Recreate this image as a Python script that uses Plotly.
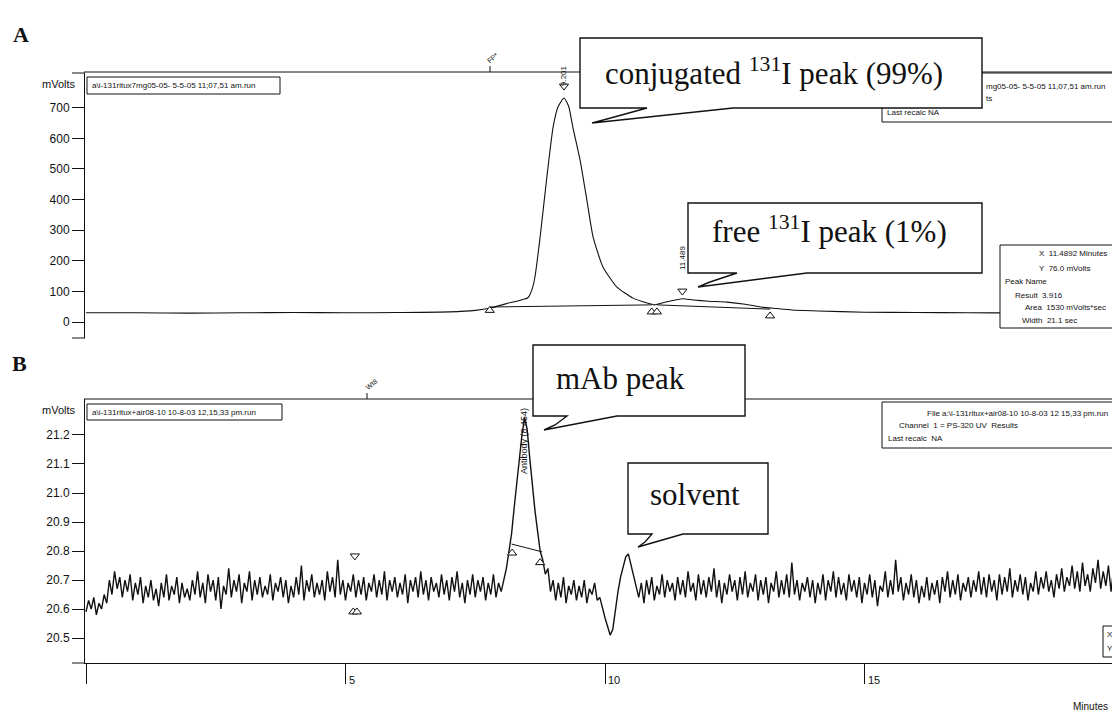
import plotly.graph_objects as go

W, H = 1120, 714
OFF = 8  # page body margin of the html page

# ---------------- data ----------------
# Panel A: radio-HPLC trace (mVolts vs minutes)
a_time = [0, 1, 2, 3, 4, 5, 6, 7, 7.5, 7.8, 8.1, 8.3, 8.45, 8.52, 8.6, 8.65, 8.75, 8.88,
          9.0, 9.1, 9.21, 9.3, 9.38, 9.52, 9.65, 9.77, 9.96, 10.23, 10.54, 10.81, 10.95,
          11.1, 11.3, 11.49, 11.7, 12.0, 12.35, 12.7, 13.0, 13.3, 13.6, 14.1, 15, 16, 17,
          18, 19, 19.92]
a_mv = [30, 30, 29, 30, 31, 30, 31, 33, 38, 46, 60, 68, 75, 80, 110, 147, 278, 474,
        637, 705, 732, 705, 637, 529, 399, 278, 180, 114, 78, 62, 56,
        62, 70, 76, 72, 68, 65, 58, 49, 44, 39, 36, 32, 31, 30,
        30, 30, 30]
a_base1_t = [7.78, 10.9]
a_base1_v = [49, 56]
a_base2_t = [11.0, 13.18]
a_base2_v = [56, 42]
a_up_t = [7.78, 10.9, 11.0, 13.18]
a_up_v = [38, 33, 33, 20]
a_dn_t = [9.21, 11.49]
a_dn_v = [771, 101]
a_ticks = [0, 100, 200, 300, 400, 500, 600, 700]

# Panel B: UV trace (mVolts), sampled every 0.05 min from 0
b_t0 = 0.0
b_step = 0.05
b_mv = [
    20.59, 20.63, 20.60, 20.64, 20.58, 20.62, 20.60, 20.65, 20.62, 20.70,
    20.65, 20.73, 20.67, 20.71, 20.64, 20.70, 20.66, 20.72, 20.63, 20.69,
    20.65, 20.71, 20.62, 20.68, 20.64, 20.70, 20.63, 20.67, 20.61, 20.69,
    20.64, 20.72, 20.63, 20.68, 20.65, 20.71, 20.62, 20.69, 20.64, 20.67,
    20.63, 20.70, 20.65, 20.73, 20.64, 20.69, 20.62, 20.72, 20.66, 20.70,
    20.63, 20.71, 20.60, 20.68, 20.65, 20.74, 20.64, 20.70, 20.66, 20.72,
    20.62, 20.69, 20.66, 20.73, 20.63, 20.70, 20.65, 20.71, 20.64, 20.68,
    20.65, 20.72, 20.63, 20.69, 20.66, 20.71, 20.64, 20.70, 20.62, 20.68,
    20.64, 20.71, 20.65, 20.75, 20.63, 20.70, 20.66, 20.72, 20.64, 20.69,
    20.65, 20.70, 20.63, 20.73, 20.66, 20.71, 20.64, 20.77, 20.65, 20.70,
    20.63, 20.69, 20.66, 20.72, 20.64, 20.70, 20.65, 20.71, 20.63, 20.69,
    20.66, 20.72, 20.64, 20.70, 20.65, 20.73, 20.63, 20.70, 20.66, 20.71,
    20.64, 20.69, 20.65, 20.72, 20.62, 20.70, 20.66, 20.71, 20.64, 20.73,
    20.65, 20.70, 20.63, 20.71, 20.66, 20.69, 20.64, 20.72, 20.65, 20.70,
    20.63, 20.71, 20.66, 20.73, 20.64, 20.69, 20.62, 20.70, 20.65, 20.72,
    20.64, 20.70, 20.66, 20.71, 20.63, 20.69, 20.65, 20.72, 20.64, 20.69,
    20.66, 20.70, 20.74, 20.80, 20.86, 20.95, 21.04, 21.12, 21.20, 21.26,
    21.22, 21.12, 21.02, 20.94, 20.87, 20.80, 20.77, 20.72, 20.74, 20.66,
    20.70, 20.63, 20.69, 20.64, 20.71, 20.62, 20.68, 20.65, 20.70, 20.63,
    20.68, 20.64, 20.70, 20.62, 20.67, 20.65, 20.69, 20.63, 20.64, 20.60,
    20.57, 20.54, 20.51, 20.53, 20.60, 20.66, 20.71, 20.75, 20.78, 20.79,
    20.75, 20.72, 20.67, 20.64, 20.69, 20.62, 20.70, 20.65, 20.71, 20.63,
    20.68, 20.65, 20.72, 20.64, 20.70, 20.66, 20.69, 20.63, 20.71, 20.65,
    20.70, 20.64, 20.73, 20.66, 20.69, 20.63, 20.72, 20.65, 20.70, 20.64,
    20.71, 20.66, 20.74, 20.64, 20.70, 20.62, 20.69, 20.65, 20.72, 20.66,
    20.70, 20.63, 20.71, 20.65, 20.73, 20.64, 20.69, 20.66, 20.72, 20.63,
    20.70, 20.65, 20.71, 20.62, 20.69, 20.66, 20.73, 20.64, 20.70, 20.65,
    20.72, 20.64, 20.76, 20.65, 20.70, 20.63, 20.69, 20.66, 20.71, 20.64,
    20.70, 20.62, 20.69, 20.65, 20.72, 20.63, 20.70, 20.66, 20.73, 20.64,
    20.71, 20.65, 20.69, 20.63, 20.72, 20.66, 20.70, 20.64, 20.71, 20.62,
    20.69, 20.65, 20.72, 20.64, 20.70, 20.61, 20.68, 20.66, 20.73, 20.64,
    20.70, 20.65, 20.77, 20.66, 20.71, 20.63, 20.69, 20.65, 20.72, 20.64,
    20.70, 20.62, 20.68, 20.64, 20.71, 20.63, 20.69, 20.65, 20.70, 20.62,
    20.71, 20.66, 20.73, 20.64, 20.70, 20.65, 20.72, 20.63, 20.69, 20.66,
    20.71, 20.64, 20.70, 20.66, 20.73, 20.65, 20.71, 20.64, 20.72, 20.66,
    20.70, 20.63, 20.72, 20.65, 20.71, 20.66, 20.74, 20.64, 20.70, 20.66,
    20.72, 20.65, 20.71, 20.63, 20.69, 20.66, 20.73, 20.65, 20.71, 20.67,
    20.73, 20.66, 20.70, 20.64, 20.72, 20.67, 20.74, 20.66, 20.71, 20.68,
    20.75, 20.67, 20.73, 20.66, 20.76, 20.68, 20.72, 20.66, 20.74, 20.69,
    20.77, 20.67, 20.73, 20.68, 20.75, 20.66, 20.74, 20.69, 20.72,
]
b_time = [b_t0 + b_step * i for i in range(len(b_mv))]
b_base_t = [8.2, 8.79]
b_base_v = [20.824, 20.797]
b_up_t = [5.15, 5.22, 8.21, 8.75]
b_up_v = [20.59, 20.59, 20.793, 20.76]
b_dn_t = [5.18]
b_dn_v = [20.783]
b_ticks = [20.5, 20.6, 20.7, 20.8, 20.9, 21.0, 21.1, 21.2]
x_ticks = [0, 5, 10, 15]
x_tick_labels = ["", "5", "10", "15"]

# ---------------- helpers (page pixels -> paper) ----------------
def X(p):
    return (p - OFF) / W

def Y(p):
    return 1 - (p - OFF) / H

SANS = "Liberation Sans, Arial, sans-serif"
SERIF = "Liberation Serif, Times New Roman, serif"

fig = go.Figure()

line_style = dict(color="#111111", width=1)
fig.add_trace(go.Scatter(x=a_time, y=a_mv, mode="lines",
                         line=dict(color="#111111", width=1.1, shape="spline", smoothing=0.5),
                         xaxis="x", yaxis="y", hoverinfo="skip"))
fig.add_trace(go.Scatter(x=a_base1_t, y=a_base1_v, mode="lines", line=line_style, xaxis="x", yaxis="y"))
fig.add_trace(go.Scatter(x=a_base2_t, y=a_base2_v, mode="lines", line=line_style, xaxis="x", yaxis="y"))
tri = dict(size=8, color="white", line=dict(color="#111111", width=1))
fig.add_trace(go.Scatter(x=a_up_t, y=a_up_v, mode="markers", marker=dict(symbol="triangle-up", **tri), xaxis="x", yaxis="y"))
fig.add_trace(go.Scatter(x=a_dn_t, y=a_dn_v, mode="markers", marker=dict(symbol="triangle-down", **tri), xaxis="x", yaxis="y"))

fig.add_trace(go.Scatter(x=b_time, y=b_mv, mode="lines", line=dict(color="#111111", width=1.4), xaxis="x2", yaxis="y2"))
fig.add_trace(go.Scatter(x=b_base_t, y=b_base_v, mode="lines", line=line_style, xaxis="x2", yaxis="y2"))
fig.add_trace(go.Scatter(x=b_up_t, y=b_up_v, mode="markers", marker=dict(symbol="triangle-up", **tri), xaxis="x2", yaxis="y2"))
fig.add_trace(go.Scatter(x=b_dn_t, y=b_dn_v, mode="markers", marker=dict(symbol="triangle-down", **tri), xaxis="x2", yaxis="y2"))

x0 = 86
ppm = 51.9  # pixels per minute
xrange = [(85 - x0) / ppm, (W + OFF - x0) / ppm]

tickfont = dict(family=SANS, size=12, color="#111111")
fig.update_layout(
    width=W, height=H, margin=dict(l=0, r=0, t=0, b=0),
    paper_bgcolor="white", plot_bgcolor="white", showlegend=False,
    xaxis=dict(domain=[X(85), 1], range=xrange, anchor="y", showgrid=False, zeroline=False,
               showticklabels=False, showline=False, ticks=""),
    yaxis=dict(domain=[Y(338), Y(73)], range=[-52.3, 813.7], anchor="x", showgrid=False, zeroline=False,
               tickvals=a_ticks, ticks="outside", ticklen=12, tickcolor="#111111",
               showline=True, linecolor="#111111", linewidth=1, tickfont=tickfont),
    xaxis2=dict(domain=[X(85), 1], range=xrange, anchor="y2", showgrid=False, zeroline=False,
                tickvals=x_ticks, ticks="outside", ticklen=20, tickcolor="#111111",
                showticklabels=False, showline=True, linecolor="#111111", linewidth=1),
    yaxis2=dict(domain=[Y(663), Y(399)], range=[20.414, 21.324], anchor="x2", showgrid=False, zeroline=False,
                tickvals=b_ticks, tickformat=".1f", ticks="outside", ticklen=12, tickcolor="#111111",
                showline=True, linecolor="#111111", linewidth=1, tickfont=tickfont),
)

shapes = []
def hline(x1, x2, y, color="#111111", w=1):
    shapes.append(dict(type="line", xref="paper", yref="paper", x0=X(x1), x1=X(x2), y0=Y(y), y1=Y(y),
                       line=dict(color=color, width=w), layer="above"))
def vline(x, y1, y2, color="#111111", w=1):
    shapes.append(dict(type="line", xref="paper", yref="paper", x0=X(x), x1=X(x), y0=Y(y1), y1=Y(y2),
                       line=dict(color=color, width=w), layer="above"))
def rect(x1, y1, x2, y2, w=1):
    shapes.append(dict(type="rect", xref="paper", yref="paper", x0=X(x1), x1=X(x2), y0=Y(y2), y1=Y(y1),
                       line=dict(color="#111111", width=w), fillcolor="white", layer="above"))
def callout(pts, w=1.4):
    path = "M " + " L ".join(f"{X(a):.5f},{Y(b):.5f}" for a, b in pts) + " Z"
    shapes.append(dict(type="path", xref="paper", yref="paper", path=path,
                       line=dict(color="#111111", width=w), fillcolor="white", layer="above"))

# frame lines
hline(84, 1128, 72)
hline(72, 85, 73)
hline(72, 85, 338)
hline(84, 1128, 399)
hline(72, 85, 663)
# small event marks
vline(490, 66, 72)
vline(367, 393, 399)

# info boxes
rect(882, 73, 1140, 122)
rect(87, 77, 280, 94)
rect(1000, 245, 1140, 328)
rect(882, 402, 1140, 448)
rect(87, 404, 282, 420)
rect(1103, 626, 1140, 657)

# speech-bubble callouts
callout([(580, 38), (982, 38), (982, 108), (733, 108), (592, 123), (607, 119), (647, 108), (580, 108)])
callout([(688, 203), (982, 203), (982, 273), (807, 273), (698, 287), (710, 282), (737, 273), (688, 273)])
callout([(533, 345), (745, 345), (745, 416), (617, 416), (544, 430), (555, 425), (567, 416), (533, 416)])
callout([(628, 463), (768, 463), (768, 534), (683, 534), (638, 547), (645, 542), (652, 534), (628, 534)])

fig.update_layout(shapes=shapes)

ann = []
def txt(x, y, s, size=8, anchor="left", family=SANS, angle=0, bold=False, yanchor="middle"):
    if bold:
        s = f"<b>{s}</b>"
    ann.append(dict(x=X(x), y=Y(y), xref="paper", yref="paper", text=s, showarrow=False,
                    xanchor=anchor, yanchor=yanchor, textangle=angle,
                    font=dict(family=family, size=size, color="#111111")))

txt(11, 35, "A", size=22, family=SERIF, bold=True)
txt(10, 363, "B", size=22, family=SERIF, bold=True)
txt(78, 84, "mVolts", size=11, anchor="right")
txt(78, 410, "mVolts", size=11, anchor="right")

txt(90, 85.5, "a\\i-131ritux7mg05-05- 5-5-05 11;07,51 am.run", size=8)
txt(90, 412, "a\\i-131ritux+air08-10 10-8-03 12,15,33 pm.run", size=8)

txt(984, 86, "mg05-05- 5-5-05 11,07,51 am.run", size=8)
txt(984, 98, "ts", size=8)
txt(885, 112, "Last recalc NA", size=8)

txt(1110, 413, "File a:\\i-131ritux+air08-10 10-8-03 12 15,33 pm.run", size=8, anchor="right")
txt(897, 425, "Channel  1 = PS-320 UV  Results", size=8)
txt(886, 438, "Last recalc  NA", size=8)

txt(1037, 253, "X  11.4892 Minutes", size=8)
txt(1037, 268, "Y  76.0 mVolts", size=8)
txt(1003, 281, "Peak Name", size=8)
txt(1013, 295, "Result  3.916", size=8)
txt(1023, 307, "Area  1530 mVolts*sec", size=8)
txt(1020, 320, "Width  21.1 sec", size=8)

txt(1105, 634, "X", size=8)
txt(1105, 648, "Y", size=8)

txt(1110, 706, "Minutes", size=10, anchor="right")
for tv, tl in zip(x_ticks, x_tick_labels):
    if tl:
        ann.append(dict(x=tv, y=Y(680), xref="x2", yref="paper", text=tl, showarrow=False,
                        xanchor="left", yanchor="middle", xshift=1,
                        font=dict(family=SANS, size=11, color="#111111")))

txt(563, 76, "9.201", size=8, anchor="center", angle=-90)
txt(683, 258, "11.489", size=8, anchor="center", angle=-90)
txt(524, 441, "Antibody (8.454)", size=9, anchor="center", angle=-90)
txt(493, 58, "FP*", size=7, anchor="center", angle=-40)
txt(371, 384, "Wt8", size=7, anchor="center", angle=-40)

txt(603, 71, "conjugated <sup>131</sup>I peak (99%)", size=31, family=SERIF)
txt(710, 229, "free <sup>131</sup>I peak (1%)", size=31, family=SERIF)
txt(554, 378, "mAb peak", size=31, family=SERIF)
txt(648, 494, "solvent", size=31, family=SERIF)

fig.update_layout(annotations=ann)
fig.write_html("out.html")
